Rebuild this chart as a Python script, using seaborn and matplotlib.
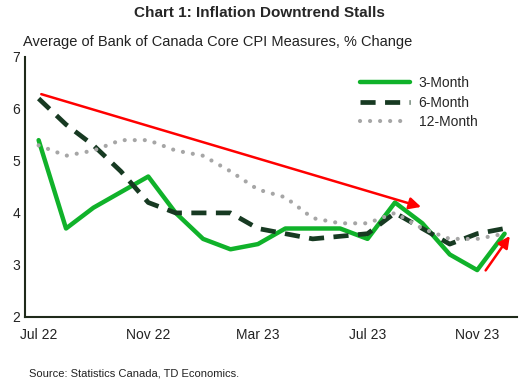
import pandas as pd
import matplotlib.pyplot as plt
import seaborn as sns

# Monthly data, Jul 2022 - Dec 2023
months = ["Jul 22", "Aug 22", "Sep 22", "Oct 22", "Nov 22", "Dec 22",
          "Jan 23", "Feb 23", "Mar 23", "Apr 23", "May 23", "Jun 23",
          "Jul 23", "Aug 23", "Sep 23", "Oct 23", "Nov 23", "Dec 23"]
three_month = [5.4, 3.7, 4.1, 4.4, 4.7, 4.0, 3.5, 3.3, 3.4, 3.7, 3.7, 3.7,
               3.5, 4.2, 3.8, 3.2, 2.9, 3.6]
six_month = [6.2, 5.7, 5.3, 4.8, 4.2, 4.0, 4.0, 4.0, 3.7, 3.6, 3.5, 3.55,
             3.6, 4.0, 3.7, 3.4, 3.6, 3.7]
twelve_month = [5.3, 5.1, 5.2, 5.4, 5.4, 5.2, 5.1, 4.8, 4.45, 4.3, 3.9, 3.8,
                3.8, 4.0, 3.7, 3.5, 3.5, 3.6]
tick_labels = ["Jul 22", "Nov 22", "Mar 23", "Jul 23", "Nov 23"]

df = pd.DataFrame({"Month": months, "3-Month": three_month,
                   "6-Month": six_month, "12-Month": twelve_month})
df["x"] = range(len(df))

sns.set_style("white")
plt.rcParams["font.family"] = ["Liberation Sans", "DejaVu Sans"]

fig = plt.figure(figsize=(5.19, 3.85), dpi=100)
ax = fig.add_axes([0.048, 0.177, 0.948, 0.675])

sns.lineplot(data=df, x="x", y="3-Month", ax=ax, color="#10b22a",
             linewidth=3.2, label="3-Month")
sns.lineplot(data=df, x="x", y="6-Month", ax=ax, color="#173a22",
             linewidth=3.4, label="6-Month")
ax.lines[-1].set_dashes([3.2, 2.0])
sns.lineplot(data=df, x="x", y="12-Month", ax=ax, color="#a6a6a6",
             linewidth=3.0, label="12-Month")
ax.lines[-1].set_dashes([0.01, 2.4])
ax.lines[-1].set_dash_capstyle("round")

# trend arrows
ax.annotate("", xy=(14.05, 4.1), xytext=(0, 6.3),
            arrowprops=dict(arrowstyle="-|>,head_length=0.7,head_width=0.35",
                            color="#ff0000", lw=1.8))
ax.annotate("", xy=(17.25, 3.6), xytext=(16.25, 2.85),
            arrowprops=dict(arrowstyle="-|>,head_length=0.7,head_width=0.35",
                            color="#ff0000", lw=1.8))

ax.set_xlim(-0.5, 17.45)
ax.set_ylim(2, 7)
ax.set_yticks([2, 3, 4, 5, 6, 7])
ax.set_xticks([months.index(t) for t in tick_labels])
ax.set_xticklabels(tick_labels)
ax.tick_params(axis="both", labelsize=10, length=0, colors="#222222")
ax.tick_params(axis="x", pad=8)
ax.set_xlabel("")
ax.set_ylabel("")
for side in ["top", "right"]:
    ax.spines[side].set_visible(False)
for side in ["left", "bottom"]:
    ax.spines[side].set_color("#1f2a1a")
    ax.spines[side].set_linewidth(1.5)

leg = ax.legend(loc="upper right", bbox_to_anchor=(0.945, 0.975), frameon=False,
                fontsize=10, handlelength=3.6, handletextpad=0.6,
                labelspacing=0.4)

fig.text(0.5, 0.965, "Chart 1: Inflation Downtrend Stalls", ha="center",
         va="center", fontsize=11, fontweight="bold")
fig.text(0.045, 0.89, "Average of Bank of Canada Core CPI Measures, % Change",
         ha="left", va="center", fontsize=10.5, color="#222222")
fig.text(0.055, 0.03, "Source: Statistics Canada, TD Economics.", ha="left",
         va="center", fontsize=8, color="#222222")

fig.savefig("out.png", dpi=100)
